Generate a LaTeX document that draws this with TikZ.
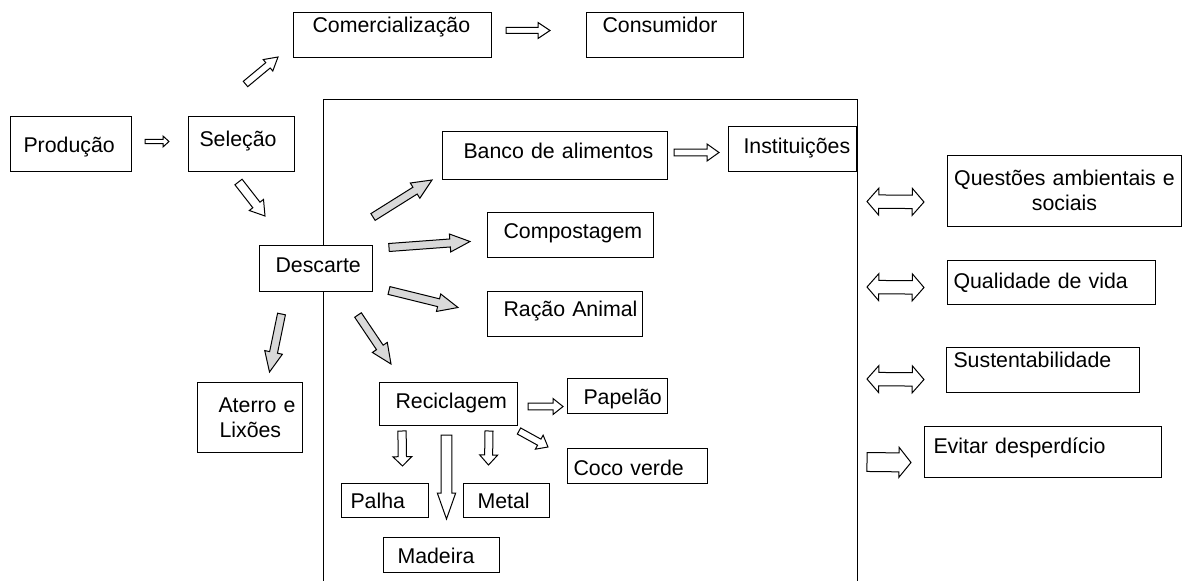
\documentclass[tikz,border=0pt]{standalone}
\usepackage{fontspec}
\setmainfont{Liberation Sans}
\usetikzlibrary{calc}
\newlength{\pxu}\setlength{\pxu}{0.75pt}

% block arrow: [fill]{shaft half}{head half}{head length}{from}{to}
\newcommand{\barrow}[6][white]{%
  \coordinate (baA) at #5;
  \coordinate (baB) at #6;
  \coordinate (baM) at ($(baB)!#4!(baA)$);
  \draw[fill=#1] ($(baA)!#2!90:(baB)$) -- ($(baM)!#2!-90:(baA)$) -- ($(baM)!#3!-90:(baA)$) -- (baB) -- ($(baM)!#3!90:(baA)$) -- ($(baM)!#2!90:(baA)$) -- ($(baA)!#2!-90:(baB)$) -- cycle;
}
% double block arrow: {shaft half}{head half}{head length}{from}{to}
\newcommand{\dbarrow}[5]{%
  \coordinate (baA) at #4;
  \coordinate (baB) at #5;
  \coordinate (baM) at ($(baA)!#3!(baB)$);
  \coordinate (baN) at ($(baB)!#3!(baA)$);
  \draw[fill=white] (baA) -- ($(baM)!#2!90:(baB)$) -- ($(baM)!#1!90:(baB)$) -- ($(baN)!#1!-90:(baA)$) -- ($(baN)!#2!-90:(baA)$) -- (baB) -- ($(baN)!#2!90:(baA)$) -- ($(baN)!#1!90:(baA)$) -- ($(baM)!#1!-90:(baB)$) -- ($(baM)!#2!-90:(baB)$) -- cycle;
}

\tikzset{
  box/.style={draw, fill=white, inner sep=0pt, anchor=north west, align=left, font=\fontsize{16}{18.75}\selectfont},
  sz/.style n args={3}{text width=#1\pxu, text height=#2\pxu, text depth=#3\pxu},
  framebox/.style={draw, inner sep=0pt, outer sep=0pt, anchor=north west},
}

\begin{document}
\begin{tikzpicture}[x=0.75pt,y=0.75pt,yscale=-1,xscale=1,line width=0.75pt]
\useasboundingbox (0,0) rectangle (1184,581);

%Shape: open frame
\node[framebox, minimum width=533.5\pxu, minimum height=500\pxu] (frame) at (323.5,100) {};

% Text Node
\node[box, sz={121}{36}{19}] (prod) at (10,116) {\hspace*{13\pxu}Produção};
\node[box, sz={106}{30}{25}] (sel) at (188,116) {\hspace*{11\pxu}Seleção};
\node[box, sz={198}{20}{25}] (comerc) at (293,12) {\hspace*{19\pxu}Comercialização};
\node[box, sz={157}{20}{25}] (cons) at (586,12) {\hspace*{16\pxu}Consumidor};
% Text Node
\node[box, sz={225}{27}{21}] (banco) at (442,131) {\hspace*{21\pxu}Banco de alimentos};
\node[box, sz={128}{27}{18}] (inst) at (728,126) {\hspace*{15\pxu}Instituições};
\node[box, sz={166}{26}{19}] (compost) at (487,212) {\hspace*{16\pxu}Compostagem};
\node[box, sz={155}{25}{20}] (racao) at (487,291) {\hspace*{16\pxu}Ração Animal};
\node[box, sz={113}{27}{19}] (desc) at (259,245) {\hspace*{16\pxu}Descarte};
\node[box, sz={105}{30}{40}] (aterro) at (197,382) {\hspace*{21\pxu}Aterro e\\\hspace*{22\pxu}Lixões};
% Text Node
\node[box, sz={138}{26}{17}] (recic) at (379,382) {\hspace*{16\pxu}Reciclagem};
\node[box, sz={100}{26}{9}] (papel) at (567,378) {\hspace*{16\pxu}Papelão};
\node[box, sz={140}{27}{8}] (coco) at (567,448) {\hspace*{6\pxu}Coco verde};
\node[box, sz={87}{25}{9}] (palha) at (341,483) {\hspace*{9\pxu}Palha};
\node[box, sz={86}{25}{9}] (metal) at (463,483) {\hspace*{14\pxu}Metal};
\node[box, sz={116}{26}{9}] (madeira) at (383,537) {\hspace*{14\pxu}Madeira};
% Text Node
\node[box, sz={234}{30}{41}, align=center] (quest) at (947,155) {Questões ambientais e\\sociais};
\node[box, sz={208}{28}{16}] (qual) at (947,260) {\hspace*{6\pxu}Qualidade de vida};
\node[box, sz={193}{20}{25}] (sust) at (946,347) {\hspace*{7\pxu}Sustentabilidade};
\node[box, sz={237}{27}{24}] (evit) at (924,426) {\hspace*{9\pxu}Evitar desperdício};

%Shape: hollow arrows
\barrow{1.6pt}{4.1pt}{4.5pt}{($(prod.east)+(13,-2.5)$)}{($(sel.west)+(-19,-2.5)$)}
\barrow{2.6pt}{5.6pt}{9.75pt}{($(sel.north)+(4,-32)$)}{($(comerc.south west)+(-15,-1)$)}
\barrow{2.25pt}{6pt}{9pt}{($(comerc.east)+(14,-4.5)$)}{($(cons.west)+(-36,-4.5)$)}
\barrow{2.6pt}{6.4pt}{9pt}{($(banco.east)+(6,-3)$)}{($(inst.west)+(-9,3.5)$)}
\barrow{3.4pt}{6.75pt}{10.5pt}{($(sel.south)+(-3,10)$)}{($(desc.north west)+(6,-29)$)}

%Shape: grey arrows from Descarte
\barrow[gray!30]{3pt}{6.75pt}{15pt}{($(desc.north east)+(0,-28)$)}{($(banco.south west)+(-10,0)$)}
\barrow[gray!30]{3pt}{6.75pt}{15pt}{($(desc.east)+(16,-21)$)}{($(compost.west)+(-17,6.5)$)}
\barrow[gray!30]{3pt}{6.75pt}{15pt}{($(desc.east)+(16,22)$)}{($(racao.west)+(-29,-6.5)$)}
\barrow[gray!30]{3pt}{6.75pt}{15pt}{($(desc.south east)+(-15,23)$)}{($(recic.north west)+(12,-18)$)}
\barrow[gray!30]{3pt}{6.75pt}{15pt}{($(desc.south)+(-34.5,22)$)}{($(aterro.north)+(19.5,-10)$)}

%Shape: arrows from Reciclagem
\barrow{2.6pt}{6pt}{7.5pt}{($(recic.east)+(10,2.5)$)}{($(papel.west)+(-4,10.5)$)}
\barrow{2.6pt}{6pt}{7.5pt}{($(recic.south east)+(1,5)$)}{($(coco.north west)+(-19,-1)$)}
\barrow{3.1pt}{7.1pt}{7pt}{($(recic.south west)+(23,5)$)}{($(palha.north)+(17.5,-17)$)}
\barrow{4pt}{6.9pt}{19.5pt}{($(recic.south)+(-2,9)$)}{($(madeira.north)+(5,-18)$)}
\barrow{3pt}{6.75pt}{7.5pt}{($(recic.south east)+(-29,5)$)}{($(metal.north)+(-18,-18)$)}

%Shape: right side arrows
\dbarrow{5pt}{10.1pt}{8.8pt}{($(frame.north east)+(10,101.5)$)}{($(quest.west)+(-23,11)$)}
\dbarrow{5pt}{10.1pt}{8.8pt}{($(frame.north east)+(10,187)$)}{($(qual.west)+(-23,5)$)}
\dbarrow{5pt}{10.1pt}{8.8pt}{($(frame.north east)+(10,279)$)}{($(sust.west)+(-22,9.5)$)}
\barrow{7.1pt}{11.25pt}{9pt}{($(frame.north east)+(10,362)$)}{($(evit.west)+(-13,10.5)$)}

\end{tikzpicture}
\end{document}
